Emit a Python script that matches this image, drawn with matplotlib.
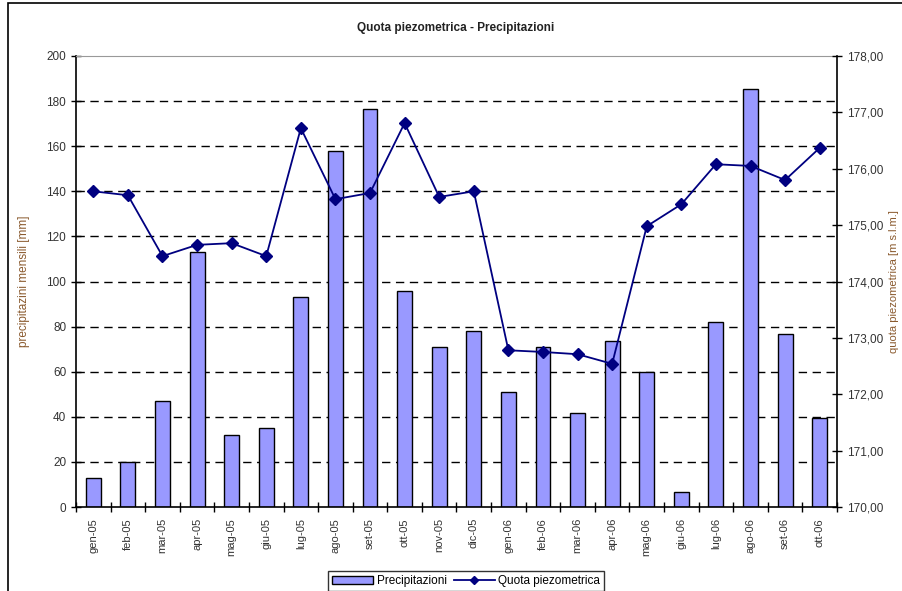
import matplotlib
matplotlib.use('Agg')
import matplotlib.pyplot as plt
from matplotlib.patches import Rectangle, Patch
from matplotlib.lines import Line2D
from matplotlib.ticker import FixedLocator, FuncFormatter

plt.rcParams['font.family'] = ['Liberation Sans', 'DejaVu Sans']

months = ['gen-05', 'feb-05', 'mar-05', 'apr-05', 'mag-05', 'giu-05', 'lug-05', 'ago-05',
          'set-05', 'ott-05', 'nov-05', 'dic-05', 'gen-06', 'feb-06', 'mar-06', 'apr-06',
          'mag-06', 'giu-06', 'lug-06', 'ago-06', 'set-06', 'ott-06']
precipitazioni = [13, 20, 47, 113, 32, 35, 93, 158, 176.5, 96, 71, 78,
                  51, 71, 41.5, 73.5, 60, 6.5, 82, 185.5, 76.5, 39.5]
quota = [175.60, 175.53, 174.45, 174.65, 174.68, 174.45, 176.72, 175.46, 175.57, 176.81, 175.50, 175.60,
         172.78, 172.75, 172.71, 172.54, 174.98, 175.37, 176.08, 176.05, 175.80, 176.37]
left_ticks = list(range(0, 201, 20))
right_ticks = list(range(170, 179))

label_color = '#8a5a2e'
tick_color = '#333333'

fig = plt.figure(figsize=(9.02, 5.91), dpi=100)

# chart area border (runs off the right and bottom edges)
fig.patches.append(Rectangle((8 / 902, -0.05), 1.0, 1 - 3 / 591 + 0.05, transform=fig.transFigure,
                             fill=False, edgecolor='black', linewidth=1.2))

ax = fig.add_axes([76 / 902, 1 - 507 / 591, (837 - 76) / 902, (507 - 56) / 591])
x = list(range(len(months)))

ax.bar(x, precipitazioni, width=0.43, color='#9999FF', edgecolor='black', linewidth=1, zorder=2)
ax.set_xlim(-0.5, len(months) - 0.5)
ax.set_ylim(0, 200)
ax.set_yticks(left_ticks)
for v in left_ticks[1:-1]:
    ax.axhline(v, color='black', linewidth=1, dashes=(6, 4), zorder=1)

ax.set_xticks(x)
ax.set_xticklabels(months, rotation=90, fontsize=8, color=tick_color)
ax.tick_params(axis='x', which='major', length=0, pad=8)
ax.xaxis.set_minor_locator(FixedLocator([i + 0.5 for i in range(-1, len(months))]))
ax.tick_params(axis='x', which='minor', direction='inout', length=7, width=1)
ax.tick_params(axis='y', direction='inout', length=7, width=1, labelsize=8.5, labelcolor=tick_color)

ax.spines['top'].set_color('#999999')
ax.spines['right'].set_visible(False)
for s in ['left', 'bottom']:
    ax.spines[s].set_linewidth(1.2)

ax.set_ylabel('precipitazini mensili [mm]', fontsize=8.5, color=label_color, labelpad=12)

ax2 = ax.twinx()
ax2.plot(x, quota, color='#000080', linewidth=1.3, marker='D', markersize=6, zorder=3)
ax2.set_ylim(170, 178)
ax2.set_yticks(right_ticks)
ax2.yaxis.set_major_formatter(FuncFormatter(lambda v, p: f'{v:.2f}'.replace('.', ',')))
ax2.tick_params(axis='y', direction='inout', length=7, width=1, labelsize=8.5, labelcolor=tick_color)
ax2.spines['right'].set_linewidth(1.2)
ax2.spines['top'].set_visible(False)
ax2.spines['left'].set_visible(False)
ax2.spines['bottom'].set_visible(False)
ax2.set_ylabel('quota piezometrica [m s.l.m.]', fontsize=8, color=label_color, rotation=90, labelpad=4)

fig.text(456 / 902, 1 - 28 / 591, 'Quota piezometrica - Precipitazioni', ha='center', va='center',
         fontsize=8.5, fontweight='bold', color='#222222')

handles = [Patch(facecolor='#9999FF', edgecolor='black', linewidth=1),
           Line2D([], [], color='#000080', linewidth=1.3, marker='D', markersize=4)]
leg = fig.legend(handles, ['Precipitazioni', 'Quota piezometrica'], loc='upper center',
                 bbox_to_anchor=(466 / 902, 1 - 565 / 591), ncol=2, fontsize=8.5, frameon=True,
                 fancybox=False, edgecolor='black', handlelength=3.5, handletextpad=0.3,
                 columnspacing=0.6, borderpad=0.35)
leg.get_frame().set_linewidth(1)

fig.savefig('out.png', dpi=100)
